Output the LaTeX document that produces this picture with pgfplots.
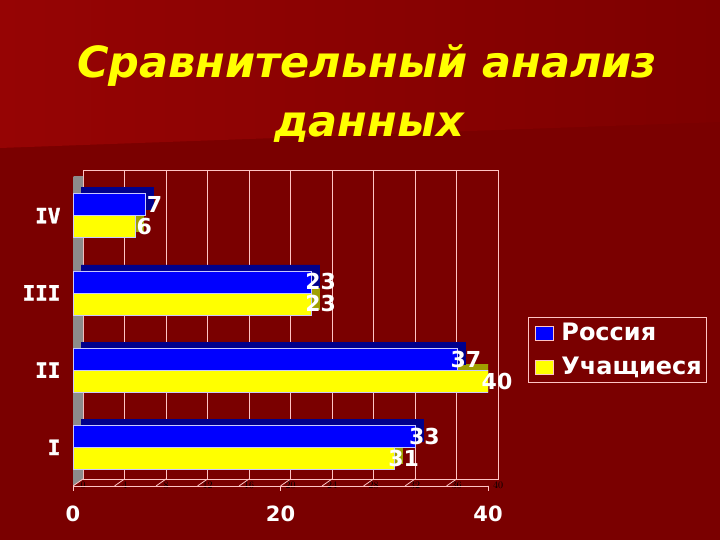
\documentclass[border=0pt]{standalone}
\usepackage{fontspec}
\setmainfont{DejaVu Sans}
\newfontfamily\titlefont{DejaVu Sans}
\newfontfamily\catfont{DejaVu Sans Mono}[BoldFont={* Bold}, BoldFeatures={FakeBold=1.6}]
\usepackage{pgfplots}
\usepackage{pgfplotstable}
\pgfplotsset{compat=1.18}

\definecolor{bgdark}{RGB}{122,0,0}
\definecolor{bgtop}{RGB}{150,4,4}
\definecolor{bgtopr}{RGB}{126,0,0}
\definecolor{gridc}{RGB}{255,196,196}
\definecolor{ruBlue}{RGB}{0,0,255}
\definecolor{ruBlueDark}{RGB}{0,0,140}
\definecolor{stYellow}{RGB}{255,255,0}
\definecolor{stYellowDark}{RGB}{160,160,0}
\definecolor{wallgray}{RGB}{140,140,140}
\definecolor{baredge}{RGB}{200,200,255}

% cat: 1=I ... 4=IV
\pgfplotstableread{
cat rus stu
1 33 31
2 37 40
3 23 23
4 7 6
}\datatable

\begin{document}
\begin{tikzpicture}
% slide background
\fill[bgdark] (0pt,0pt) rectangle (720pt,540pt);
\shade[left color=bgtop, right color=bgtopr] (0pt,392pt) -- (720pt,418pt) -- (720pt,540pt) -- (0pt,540pt) -- cycle;

% title
\node[font=\titlefont\bfseries\itshape\fontsize{43}{45}\selectfont, text=stYellow, anchor=base]
    at (367pt,462pt) {Сравнительный анализ};
\node[font=\titlefont\bfseries\itshape\fontsize{43}{45}\selectfont, text=stYellow, anchor=base]
    at (369pt,403pt) {данных};

% back wall with the grid
\begin{axis}[
    at={(83pt,61pt)}, anchor=south west,
    scale only axis, width=415pt, height=309pt,
    xmin=0, xmax=40, ymin=0.5, ymax=4.5,
    xtick distance=4, xticklabel={}, ytick=\empty,
    major tick length=0pt,
    xmajorgrids, grid style={gridc, line width=0.8pt},
    axis line style={gridc, line width=0.8pt},
]
\end{axis}

\begin{axis}[
    at={(73pt,54pt)}, anchor=south west,
    scale only axis, width=415pt, height=309pt,
    xmin=0, xmax=40, ymin=0.5, ymax=4.5,
    axis x line*=bottom, axis y line*=left,
    axis line style={-, gridc, line width=0.8pt},
    xtick={0,20,40}, ytick={1,2,3,4},
    yticklabels={I,II,III,IV},
    tick align=outside, major tick length=5pt,
    xtick style={gridc, line width=0.8pt},
    ytick style={draw=none},
    xticklabel={\pgfmathprintnumber[assume math mode=true]{\tick}},
    xticklabel style={font=\bfseries\fontsize{21}{21}\selectfont, text=white, yshift=-11pt},
    yticklabel style={font=\catfont\bfseries\fontsize{21}{21}\selectfont, text=white, xshift=-4pt},
    xbar, bar width=22pt,
    reverse legend,
    legend style={at={(1.0964,0.547)}, anchor=north west,
        draw=gridc, line width=0.8pt, fill=none, text=white,
        font=\bfseries\fontsize{24}{24}\selectfont,
        inner xsep=3pt, inner ysep=4pt, row sep=11pt},
    legend cell align=left,
    legend image code/.code={\path[draw=none, fill=none] (0pt,0pt) -- (28pt,0pt);
        \draw[#1, draw=gridc, line width=0.6pt] (4pt,-7pt) rectangle (22pt,7pt);},
    every node near coord/.append style={font=\bfseries\fontsize{22}{22}\selectfont,
        text=white, anchor=center, xshift=9pt},
]
% grey side wall
\fill[wallgray] (axis cs:0,0.5) -- (axis cs:0,4.5) -- ([shift={(10pt,7pt)}]axis cs:0,4.5)
    -- ([shift={(10pt,7pt)}]axis cs:0,0.5) -- cycle;
% floor lines and category ticks
\pgfplotsinvokeforeach{0,4,...,40}{\draw[gridc, line width=0.8pt] (axis cs:#1,0.5) -- ++(10pt,7pt);}
\pgfplotsinvokeforeach{0.5,1.5,...,4.5}{\draw[gridc, line width=0.8pt] (axis cs:0,#1) -- ++(-5pt,0pt);}

% depth faces of the bars
\addplot[fill=stYellowDark, draw=stYellowDark, bar shift=-11pt, xshift=8pt, yshift=6pt, forget plot]
    table[x=stu, y=cat]{\datatable};
\addplot[fill=ruBlueDark, draw=ruBlueDark, bar shift=11pt, xshift=8pt, yshift=6pt, forget plot]
    table[x=rus, y=cat]{\datatable};
% front faces
\addplot[fill=stYellow, draw=baredge, bar shift=-11pt,
    nodes near coords={\pgfmathprintnumber[assume math mode=true]{\pgfplotspointmeta}}]
    table[x=stu, y=cat]{\datatable};
\addplot[fill=ruBlue, draw=baredge, bar shift=11pt,
    nodes near coords={\pgfmathprintnumber[assume math mode=true]{\pgfplotspointmeta}}]
    table[x=rus, y=cat]{\datatable};
\legend{Учащиеся, Россия}
\end{axis}
\end{tikzpicture}
\end{document}
